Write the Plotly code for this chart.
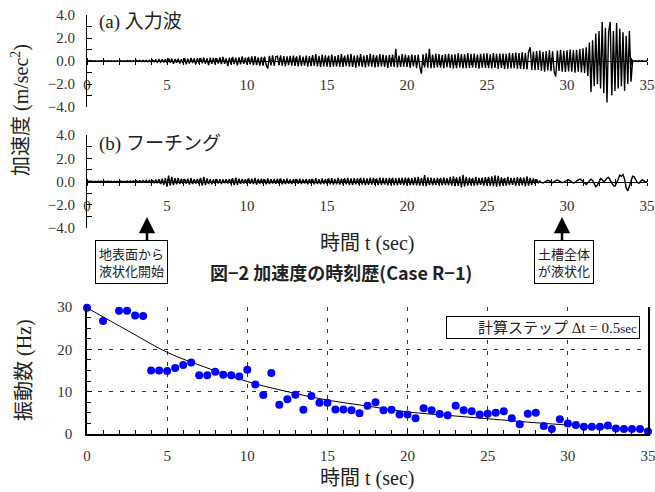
import plotly.graph_objects as go

W, H = 655, 492
def px(x): return x / W
def py(y): return 1 - y / H

# ---------------- data ----------------
t_acc = [i / 10 for i in range(351)]  # 0.0 .. 35.0 s

# (a) input wave, m/sec^2 (0.1 s steps)
acc_a = [
    0.00, 0.02, -0.02, 0.03, -0.02, 0.02, -0.03, 0.02, -0.02, 0.03,
    -0.02, 0.03, -0.03, 0.02, -0.02, 0.03, -0.03, 0.02, -0.03, 0.03,
    -0.03, 0.04, -0.03, 0.03, -0.04, 0.04, -0.03, 0.04, -0.04, 0.03,
    -0.04, 0.05, -0.04, 0.05, -0.05, 0.06, -0.05, 0.06, -0.06, 0.07,
    -0.06, 0.08, -0.07, 0.09, -0.10, 0.12, -0.10, 0.14, -0.12, 0.15,
    -0.18, 0.22, -0.15, 0.20, -0.25, 0.18, -0.14, 0.20, -0.22, 0.16,
    -0.20, 0.24, -0.28, 0.20, -0.22, 0.26, -0.18, 0.22, -0.30, 0.24,
    -0.22, 0.26, -0.20, 0.30, -0.25, 0.22, -0.35, 0.28, -0.24, 0.26,
    -0.28, 0.24, -0.22, 0.32, -0.26, 0.35, -0.24, 0.22, -0.45, 0.30,
    -0.30, 0.35, -0.26, 0.30, -0.38, 0.32, -0.28, 0.40, -0.25, 0.30,
    -0.32, 0.36, -0.30, 0.40, -0.35, 0.42, -0.36, 0.32, -0.40, 0.36,
    -0.40, 0.38, -0.35, -0.65, 0.45, -0.38, 0.50, -0.42, 0.36, 0.42,
    -0.36, 0.48, -0.40, 0.42, -0.45, 0.40, -0.36, 0.44, -0.40, 0.46,
    -0.42, 0.40, -0.46, 0.50, -0.42, 0.38, -0.40, 0.46, -0.50, 0.42,
    -0.45, 0.52, -0.42, 0.60, -0.48, 0.45, -0.52, 0.55, -0.46, 0.50,
    -0.50, 0.46, -0.52, 0.56, -0.48, 0.42, -0.46, 0.52, -0.50, 0.60,
    -0.52, 0.48, -0.45, 0.56, -0.50, 0.62, -0.52, 0.46, -0.58, 0.50,
    -0.48, 0.60, -0.52, 0.48, -0.56, 0.52, -0.46, 0.62, -0.50, 0.54,
    -0.56, 0.50, -0.52, 0.60, -0.48, 0.56, -0.52, 0.50, -0.60, 0.52,
    -0.50, 0.56, -0.52, 1.05, -0.56, 0.48, -0.52, 0.60, -0.50, 0.56,
    -0.52, 0.50, -0.60, 0.56, -0.48, 0.52, -0.62, 0.56, -0.52, -1.10,
    0.58, -0.56, 0.66, -0.58, 1.05, -0.62, 0.56, -0.60, 0.64, -0.56,
    0.60, -0.58, 0.52, -0.62, 0.58, -0.54, 0.62, -0.60, 0.56, -0.64,
    0.58, -0.62, 0.66, -0.56, 0.60, -0.64, 0.58, -0.62, 0.68, -0.60,
    0.62, -0.58, 0.64, -0.60, 0.56, -0.66, 0.62, -0.58, 0.64, -0.60,
    0.66, -0.62, 0.58, -0.64, 0.70, -0.60, 0.62, -0.68, 0.64, -0.60,
    0.64, -0.70, 0.62, -0.66, 0.72, -0.64, 0.68, -0.62, 0.74, -0.66,
    0.70, -0.68, 0.76, -0.72, 0.68, -0.74, 0.80, 1.20, -0.78, 0.82,
    -0.80, 0.86, -0.78, 0.90, -0.84, 0.80, -0.92, 0.86, -0.82, 0.94,
    -0.88, 0.84, -0.96, -1.35, 0.90, -0.86, 0.98, -0.92, 0.88, -0.96,
    0.92, -0.90, 1.00, -0.94, 0.96, -1.02, 0.98, -0.94, 1.05, -1.00,
    1.10, -1.05, 1.20, -1.30, 1.60, -2.70, 1.80, -2.20, 2.40, -2.00,
    2.60, -2.40, 3.40, -2.80, 2.90, -3.60, 2.50, 3.40, -3.00, 2.60,
    -2.60, 3.30, -2.40, 2.80, -2.20, 2.50, -2.60, 2.20, -2.00, 2.60,
    -1.80, 0.05, -0.03, 0.02, -0.02, 0.02, -0.02, 0.02, -0.02, 0.02,
    0.00,
]

# (b) footing response, m/sec^2
acc_b = [
    0.00, 0.02, -0.02, 0.02, -0.03, 0.02, -0.02, 0.03, -0.02, 0.02,
    -0.03, 0.02, -0.02, 0.03, -0.02, 0.03, -0.03, 0.02, -0.03, 0.02,
    -0.03, 0.04, -0.03, 0.03, -0.04, 0.03, -0.04, 0.04, -0.03, 0.05,
    -0.05, 0.06, -0.05, 0.07, -0.06, 0.08, -0.07, 0.09, -0.08, 0.10,
    -0.10, 0.12, -0.14, 0.16, -0.15, 0.20, -0.22, 0.25, -0.28, 0.30,
    -0.45, 0.50, -0.35, 0.40, -0.30, 0.28, -0.25, 0.30, -0.22, 0.24,
    -0.20, 0.22, -0.18, 0.24, -0.26, 0.28, -0.22, 0.20, -0.18, 0.22,
    -0.24, 0.30, -0.35, 0.40, -0.30, 0.26, -0.22, 0.20, -0.24, 0.18,
    -0.20, 0.22, -0.18, 0.20, -0.22, 0.18, -0.16, 0.20, -0.18, 0.22,
    -0.24, 0.28, -0.30, 0.34, -0.28, 0.24, -0.20, 0.22, -0.18, 0.20,
    -0.22, 0.26, -0.20, 0.24, -0.22, 0.30, -0.26, 0.22, -0.20, 0.24,
    -0.22, 0.20, -0.24, 0.26, -0.22, 0.20, -0.18, 0.22, -0.20, 0.24,
    -0.22, 0.26, -0.24, 0.20, -0.22, 0.24, -0.20, 0.18, -0.22, 0.20,
    -0.18, 0.22, -0.20, 0.24, -0.22, 0.20, -0.18, 0.22, -0.24, 0.20,
    -0.20, 0.22, -0.24, 0.28, -0.22, 0.20, -0.24, 0.26, -0.22, 0.20,
    -0.22, 0.26, -0.24, 0.28, -0.26, 0.22, -0.24, 0.30, -0.26, 0.24,
    -0.26, 0.28, -0.24, 0.30, -0.28, 0.26, -0.30, 0.28, -0.24, 0.26,
    -0.28, 0.30, -0.26, 0.28, -0.30, 0.26, -0.28, 0.32, -0.26, 0.30,
    -0.28, 0.26, -0.30, 0.34, -0.28, 0.30, -0.26, 0.28, -0.32, 0.30,
    -0.28, 0.32, -0.30, 0.28, -0.34, 0.30, -0.28, 0.32, -0.30, 0.34,
    -0.30, 0.34, -0.32, 0.28, -0.30, 0.36, -0.34, 0.40, -0.36, 0.30,
    -0.34, 0.55, -0.40, 0.36, -0.30, 0.34, -0.32, 0.28, -0.30, 0.32,
    -0.28, 0.30, -0.34, 0.36, -0.30, 0.28, -0.32, 0.40, -0.36, 0.45,
    -0.40, 0.36, -0.38, 0.42, -0.50, 0.58, -0.45, 0.40, -0.36, 0.34,
    -0.30, 0.32, -0.36, 0.40, -0.34, 0.30, -0.28, 0.34, -0.36, 0.38,
    -0.34, 0.40, -0.38, 0.45, -0.40, 0.52, -0.44, 0.48, -0.40, 0.36,
    -0.34, 0.30, -0.36, 0.40, -0.32, 0.30, -0.28, 0.32, -0.36, 0.38,
    -0.32, 0.36, -0.30, 0.34, -0.40, 0.45, -0.36, 0.30, -0.28, 0.26,
    -0.22, 0.18, -0.10, 0.05, -0.08, -0.12, -0.05, 0.05, 0.10, 0.05,
    -0.05, -0.10, -0.02, 0.08, 0.12, 0.06, -0.04, -0.10, -0.06, 0.04,
    0.10, 0.14, 0.08, -0.05, -0.12, -0.08, 0.04, 0.12, 0.20, 0.12,
    -0.02, -0.15, -0.25, -0.10, 0.08, 0.20, 0.10, -0.20, -0.45, -0.30,
    0.05, 0.25, 0.15, -0.05, 0.10, 0.30, 0.35, 0.15, -0.10, -0.35,
    -0.40, -0.15, 0.20, 0.55, 0.45, 0.60, 0.20, -0.55, -0.80, -0.40,
    0.10, 0.45, 0.40, 0.10, -0.10, -0.15, 0.00, 0.15, 0.05, -0.05,
    0.00,
]

# (c) identified frequency, Hz, every 0.5 s
t_freq = [i / 2 for i in range(71)]
freq = [
    29.8, 30.2, 26.7, None, 29.1, 29.1, 28.0, 27.9, 15.0, 15.0,
    14.9, 15.6, 16.3, 16.9, 13.9, 13.9, 14.7, 14.0, 13.9, 13.6,
    15.2, 11.7, 9.2, 14.4, 6.9, 8.2, 9.3, 5.7, 9.0, 7.4,
    7.4, 5.8, 5.8, 5.6, 4.9, 6.7, 7.5, 5.6, 5.7, 4.6,
    4.6, 3.7, 6.1, 5.6, 4.7, 4.4, 6.7, 5.6, 5.4, 4.6,
    4.8, 5.0, 5.4, 3.7, 2.3, 4.8, 5.0, 1.9, 1.2, 3.5,
    2.5, 2.1, 1.7, 1.7, 1.7, 2.0, 1.3, 1.2, 1.2, 1.2,
    0.6,
]

# trend curve read every 2.5 s
t_fit = [0, 2.5, 5, 7.5, 10, 12.5, 15, 17.5, 20, 22.5, 25, 27.5, 30, 32.5, 35]
f_fit = [29.8, 24.5, 19.3, 15.6, 12.4, 10.0, 8.0, 6.6, 5.2, 4.4, 3.6, 2.8, 2.1, 1.4, 1.0]

# ---------------- figure ----------------
SERIF = "Liberation Serif, Noto Sans CJK JP"
GOTH = "Noto Sans CJK JP"
TXT = "#222222"

fig = go.Figure()
fig.add_trace(go.Scatter(x=t_acc, y=acc_a, mode="lines", line=dict(color="black", width=1.4),
                         xaxis="x", yaxis="y", showlegend=False, hoverinfo="skip"))
fig.add_trace(go.Scatter(x=t_acc, y=acc_b, mode="lines", line=dict(color="black", width=1.4),
                         xaxis="x2", yaxis="y2", showlegend=False, hoverinfo="skip"))
fig.add_trace(go.Scatter(x=t_fit, y=f_fit, mode="lines", line=dict(color="black", width=1, shape="spline"),
                         xaxis="x3", yaxis="y3", showlegend=False, hoverinfo="skip"))
fig.add_trace(go.Scatter(x=t_freq, y=freq, mode="markers", marker=dict(color="#0000FF", size=8),
                         cliponaxis=False, xaxis="x3", yaxis="y3", showlegend=False))
# dummy traces to attach the tick-crossing overlay axes
fig.add_trace(go.Scatter(x=[None], y=[None], xaxis="x4", yaxis="y", showlegend=False))
fig.add_trace(go.Scatter(x=[None], y=[None], xaxis="x5", yaxis="y2", showlegend=False))

XD = [px(87), px(647)]
YA = [py(107), py(15)]
YB = [py(228), py(135)]
YC = [py(434), py(307)]

tickfont = dict(family=SERIF, size=15, color="#333333")

def acc_x(pos, **kw):
    d = dict(domain=XD, range=[0, 35], anchor="free", position=pos, dtick=5, tick0=0,
             showline=True, linecolor="black", linewidth=1, ticks="outside", ticklen=3,
             tickcolor="black", minor=dict(dtick=1, ticks="outside", ticklen=3, tickcolor="black"),
             showgrid=False, zeroline=False, tickfont=tickfont, ticklabelstandoff=7,
             automargin=False, ticklabeloverflow="allow")
    d.update(kw)
    return d

def acc_y(dom):
    return dict(domain=dom, range=[-4, 4], dtick=2, tickformat=".1f", ticks="inside", ticklen=5,
                tickcolor="black", minor=dict(dtick=1, ticks="inside", ticklen=5, tickcolor="black"),
                showline=True, linecolor="black", linewidth=1, showgrid=False, zeroline=False,
                anchor="x", tickfont=tickfont, ticklabelstandoff=8, automargin=False,
                ticklabeloverflow="allow")

posA = (YA[0] + YA[1]) / 2
posB = (YB[0] + YB[1]) / 2

fig.update_layout(
    width=W, height=H, margin=dict(l=0, r=0, t=0, b=0, pad=0, autoexpand=False),
    paper_bgcolor="white", plot_bgcolor="white",
    xaxis=acc_x(posA),
    xaxis2=acc_x(posB),
    xaxis4=acc_x(posA, overlaying="x", side="top", showticklabels=False, showline=False),
    xaxis5=acc_x(posB, overlaying="x2", side="top", showticklabels=False, showline=False),
    yaxis=acc_y(YA),
    yaxis2=dict(acc_y(YB), anchor="x2"),
    xaxis3=dict(domain=[px(87), px(648)], range=[0, 35], anchor="y3", dtick=5, tick0=0,
                showline=True, linecolor="black", linewidth=1.5, ticks="inside", ticklen=5,
                tickcolor="black", minor=dict(dtick=1, ticks="inside", ticklen=4, tickcolor="black"),
                showgrid=True, gridcolor="#333333", gridwidth=1, griddash="4px,7px",
                zeroline=False, tickfont=tickfont, ticklabelstandoff=7, automargin=False,
                ticklabeloverflow="allow"),
    yaxis3=dict(domain=YC, range=[0, 30], anchor="x3", dtick=10, tick0=0,
                showline=True, linecolor="black", linewidth=1.5, mirror=True, ticks="inside", ticklen=5,
                tickcolor="black", minor=dict(dtick=2.5, ticks="inside", ticklen=4, tickcolor="black"),
                showgrid=True, gridcolor="#333333", gridwidth=1, griddash="4px,7px",
                zeroline=False, tickfont=tickfont, ticklabelstandoff=10, automargin=False,
                ticklabeloverflow="allow"),
)

ann = []
def A(text, x, y, size=20, font=SERIF, **kw):
    d = dict(text=text, x=px(x), y=py(y), xref="paper", yref="paper", showarrow=False,
             xanchor="center", yanchor="middle",
             font=dict(family=font, size=size, color=TXT))
    d.update(kw)
    ann.append(d)

A("(a) 入力波", 97, 22, size=19, xanchor="left")
A("(b) フーチング", 97, 144, size=19, xanchor="left")
A("加速度 (m/sec<sup>2</sup>)", 20, 110, textangle=-90)
A("時間 t (sec)", 367, 243)
A("<b>図−2 加速度の時刻歴(Case R−1)</b>", 341, 272, size=18, font=GOTH)
A("地表面から<br>液状化開始", 131, 262, size=13, font=GOTH, bordercolor="black", borderwidth=1,
  borderpad=3, bgcolor="white")
A("土槽全体<br>が液状化", 564, 262, size=13, font=GOTH, bordercolor="black", borderwidth=1,
  borderpad=3, bgcolor="white")
A("計算ステップ Δt = 0.5<span style='font-size:13px'>sec</span>", 640, 327, size=15,
  xanchor="right", bordercolor="black", borderwidth=1, borderpad=2, bgcolor="white",
  width=188, align="right")
A("振動数 (Hz)", 24, 370, textangle=-90)
A("時間 t (sec)", 367, 478)

for xa in (147, 562):
    ann.append(dict(text="", x=px(xa), y=py(217), xref="paper", yref="paper", showarrow=True,
                    ax=0, ay=25, arrowhead=2, arrowsize=1.3, arrowwidth=2.5, arrowcolor="black"))

fig.update_layout(annotations=ann)
fig.write_html("out.html", config={"displayModeBar": False},
               post_script="document.body.style.margin='0px';")
